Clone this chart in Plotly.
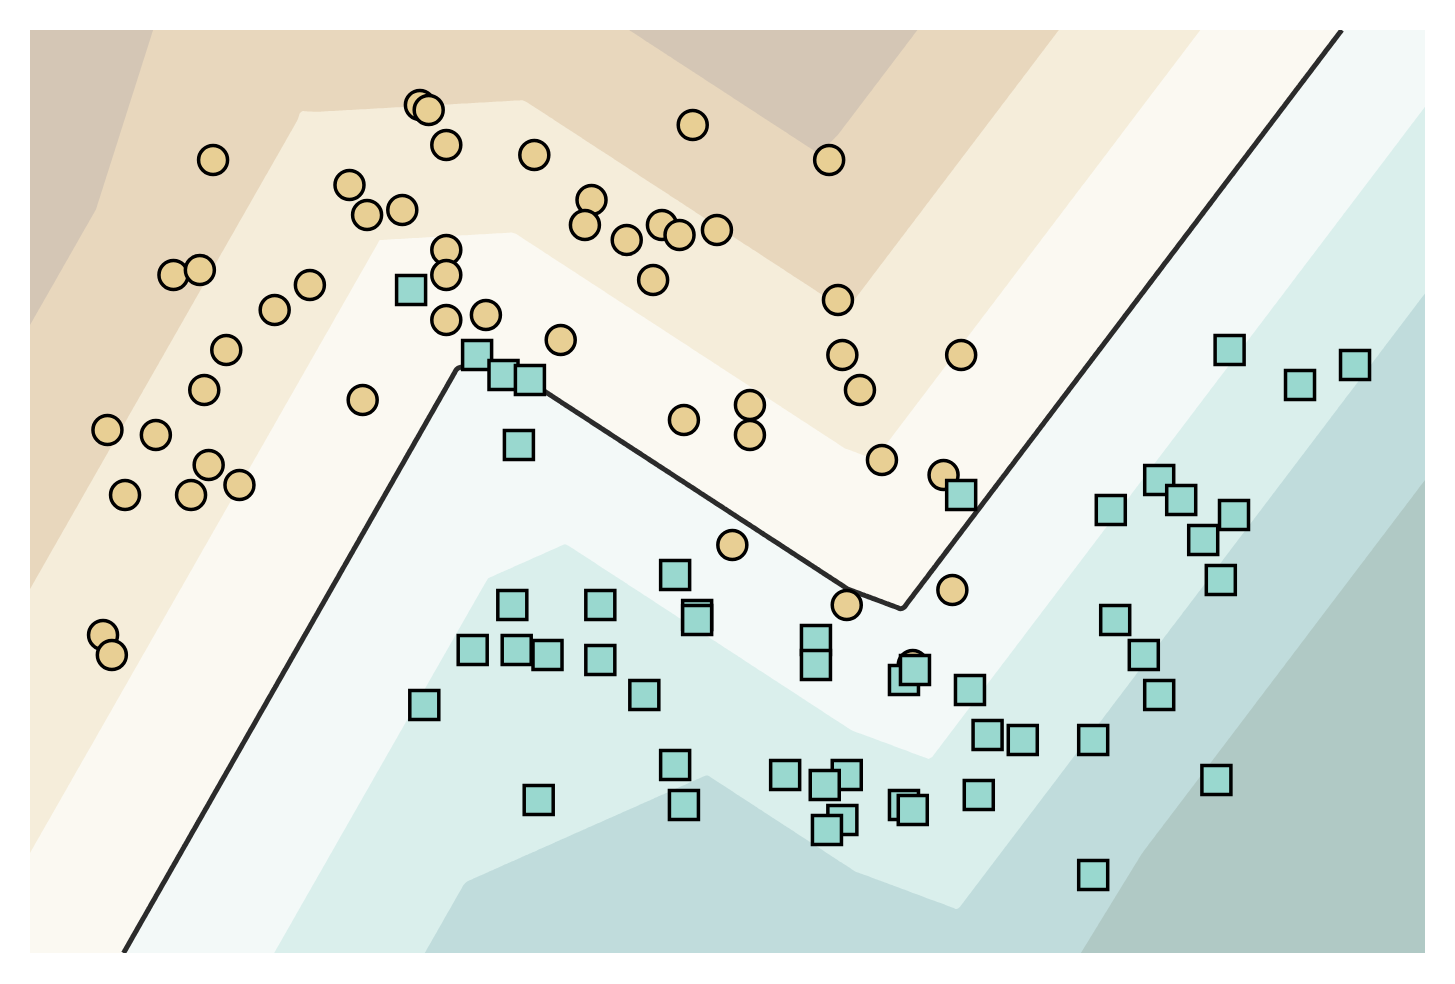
import numpy as np
import plotly.graph_objects as go

# points (data units)
circle_x = [-0.25, -0.23, -0.19, -0.72, -0.41, -0.37, -0.29, -0.19, -0.19, -0.81,
            -0.75, -0.50, -0.58, -0.19, -0.10, -0.69, 0.37, 0.01, 0.68, 0.14,
            0.125, 0.22, 0.30, 0.34, 0.425, 0.28, 0.70, 0.07, -0.74, -0.96,
            -0.85, -0.73, -0.66, -0.92, -0.77, -0.38, -0.97, -0.95, 0.71, 0.98,
            0.75, 0.35, 0.50, 0.50, 0.80, 0.94, 0.46, 0.72, 0.96, 0.87]
circle_y = [1.07, 1.06, 0.99, 0.96, 0.91, 0.85, 0.86, 0.78, 0.73, 0.73,
            0.74, 0.71, 0.66, 0.64, 0.65, 0.58, 1.03, 0.97, 0.96, 0.88,
            0.83, 0.80, 0.83, 0.81, 0.82, 0.72, 0.68, 0.60, 0.50, 0.42,
            0.41, 0.35, 0.31, 0.29, 0.29, 0.48, 0.01, -0.03, 0.57, 0.57,
            0.50, 0.44, 0.47, 0.41, 0.36, 0.33, 0.19, 0.07, 0.10, -0.05]

square_x = [-0.27, -0.12, -0.06, 0.00, -0.025, 0.33, 0.38, 0.38, 0.98, -0.04,
            0.16, -0.13, -0.03, 0.04, 0.16, -0.24, 0.26, 0.65, 0.65, 0.33,
            0.35, 0.02, 0.58, 0.72, 0.67, 0.71, 0.675, 0.85, 0.875, 1.00,
            1.33, 1.395, 1.43, 1.04, 1.12, 1.28, 0.85, 0.87, 1.02, 1.28,
            1.56, 1.59, 1.75, 1.875, 1.43, 1.48, 1.32, 1.60, 1.53, 1.57]
square_y = [0.70, 0.57, 0.53, 0.52, 0.39, 0.13, 0.05, 0.04, 0.29, 0.07,
            0.07, -0.02, -0.02, -0.03, -0.04, -0.13, -0.11, 0.00, -0.05, -0.25,
            -0.33, -0.32, -0.27, -0.27, -0.29, -0.36, -0.38, -0.08, -0.06, -0.10,
            0.04, -0.03, -0.11, -0.19, -0.20, -0.20, -0.33, -0.34, -0.31, -0.47,
            -0.28, 0.58, 0.51, 0.55, 0.32, 0.28, 0.26, 0.25, 0.20, 0.12]

band_colors = ['#d4c6b5', '#e8d7bd', '#f5edda', '#fbf9f2',
               '#f3f9f8', '#daefec', '#c0dcdc', '#b0c9c5']

x_range = [-1.136, 2.034]
y_range = [-0.626, 1.22]

# small relu network (2-10-1) fitted to the points, full batch Adam
Xd = np.column_stack([circle_x + square_x, circle_y + square_y])
t = np.array([0.0] * len(circle_x) + [1.0] * len(square_x))
H, alpha, lr = 10, 0.3, 0.01
th = 2 * np.pi * (np.arange(H) + 0.5) / H
W1 = np.column_stack([np.cos(th), np.sin(th)])
b1 = -(W1 @ Xd.mean(0)) + 0.4 * (np.arange(H) % 3 - 1)
W2 = 0.3 * (W1 @ np.array([0.7071, -0.7071]))
b2 = np.zeros(1)
params = [W1, b1, W2, b2]
mom = [np.zeros_like(q) for q in params]
vel = [np.zeros_like(q) for q in params]
n = len(t)
for s in range(1, 6001):
    A = Xd @ W1.T + b1
    Hh = np.maximum(A, 0)
    p = 1 / (1 + np.exp(-(Hh @ W2 + b2)))
    df = (p - t) / n
    dH = np.outer(df, W2) * (A > 0)
    grads = [dH.T @ Xd + alpha / n * W1, dH.sum(0),
             Hh.T @ df + alpha / n * W2, np.array([df.sum()])]
    for q, gq, mq, vq in zip(params, grads, mom, vel):
        mq[...] = 0.9 * mq + 0.1 * gq
        vq[...] = 0.999 * vq + 0.001 * gq * gq
        q -= lr * (mq / (1 - 0.9 ** s)) / (np.sqrt(vq / (1 - 0.999 ** s)) + 1e-8)

gx = np.linspace(x_range[0], x_range[1], 400)
gy = np.linspace(y_range[0], y_range[1], 300)
GX, GY = np.meshgrid(gx, gy)
G = np.column_stack([GX.ravel(), GY.ravel()])
Z = (np.maximum(G @ W1.T + b1, 0) @ W2 + b2).reshape(GX.shape)

# even level step over the decision values, one level at 0
step = (Z.max() - Z.min()) / 9

n_col = len(band_colors)
cscale = [[i / (n_col - 1), c] for i, c in enumerate(band_colors)]

fig = go.Figure()
fig.add_trace(go.Contour(
    x=gx, y=gy, z=Z, colorscale=cscale, showscale=False,
    contours=dict(start=-3 * step, end=3 * step, size=step, coloring='fill'),
    line=dict(width=0), hoverinfo='skip'))
fig.add_trace(go.Scatter(
    x=circle_x, y=circle_y, mode='markers',
    marker=dict(symbol='circle', size=29, color='#e8cf94',
                line=dict(color='black', width=3.5))))
fig.add_trace(go.Scatter(
    x=square_x, y=square_y, mode='markers',
    marker=dict(symbol='square', size=29, color='#99d8cf',
                line=dict(color='black', width=3.5))))
fig.add_trace(go.Contour(
    x=gx, y=gy, z=Z, showscale=False,
    contours=dict(start=0, end=0, size=1, coloring='none'),
    line=dict(color='#2b2b2b', width=5), hoverinfo='skip'))

fig.update_xaxes(range=x_range, showgrid=False, zeroline=False,
                 showticklabels=False, ticks='')
fig.update_yaxes(range=y_range, showgrid=False, zeroline=False,
                 showticklabels=False, ticks='')
fig.update_layout(width=1447, height=976, showlegend=False,
                  margin=dict(l=22, r=30, t=22, b=31),
                  paper_bgcolor='white', plot_bgcolor='white')

fig.write_html("out.html")
